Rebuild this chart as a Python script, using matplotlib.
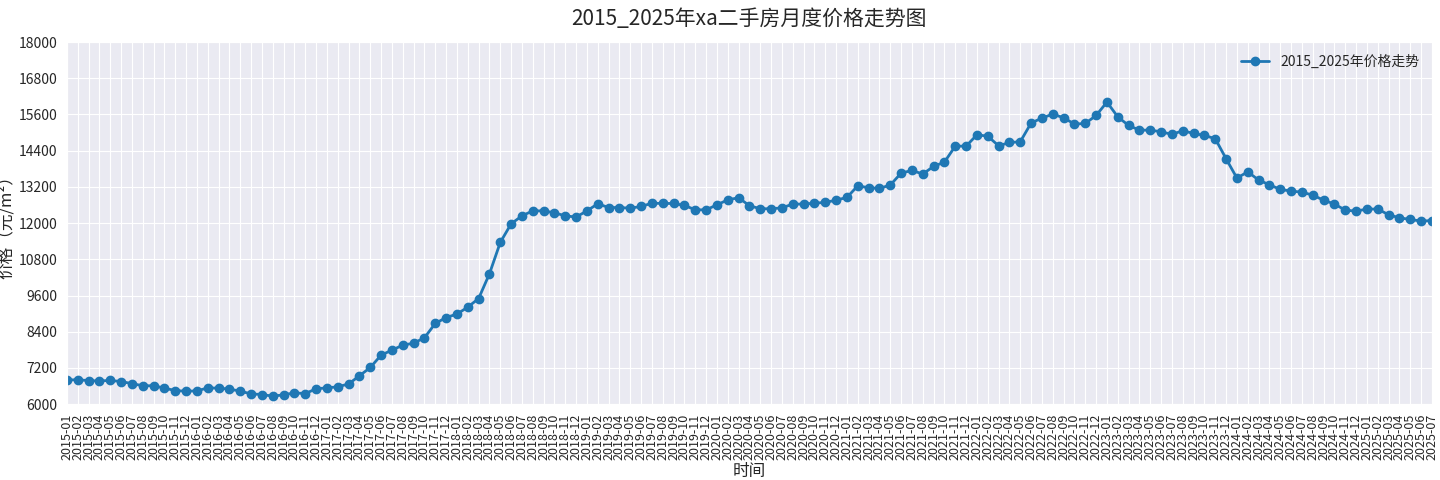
import matplotlib
matplotlib.use("Agg")
import matplotlib.pyplot as plt
import seaborn as sns
import pandas as pd

sns.set_style("darkgrid")
plt.rcParams['font.family'] = ['Noto Sans CJK SC', 'DejaVu Sans']
plt.rcParams['axes.unicode_minus'] = False

# 月份 2015-01 .. 2025-07
months = pd.date_range("2015-01", "2025-07", freq="MS").strftime("%Y-%m").tolist()

# 价格（元/m²）
prices = [
    6800, 6810, 6780, 6770, 6785, 6750, 6680, 6610, 6610, 6530, 6450, 6430,
    6440, 6540, 6530, 6500, 6430, 6340, 6320, 6265, 6310, 6375, 6350, 6510,
    6540, 6575, 6670, 6940, 7215, 7625, 7790, 7955, 8020, 8200, 8675, 8870,
    8985, 9215, 9500, 10320, 11360, 11975, 12240, 12405, 12405, 12340, 12240, 12200,
    12405, 12640, 12515, 12515, 12495, 12550, 12660, 12650, 12650, 12585, 12440, 12440,
    12605, 12770, 12840, 12575, 12475, 12475, 12505, 12630, 12630, 12660, 12685, 12760,
    12850, 13235, 13170, 13150, 13260, 13655, 13745, 13625, 13880, 14020, 14550, 14550,
    14925, 14880, 14560, 14670, 14695, 15315, 15480, 15610, 15490, 15280, 15300, 15565,
    16010, 15520, 15235, 15080, 15080, 15025, 14940, 15060, 14970, 14905, 14795, 14130,
    13490, 13700, 13425, 13270, 13115, 13060, 13025, 12925, 12760, 12630, 12430, 12395,
    12465, 12465, 12275, 12175, 12120, 12065, 12085,
]

fig, ax = plt.subplots(figsize=(14.4, 4.8), dpi=100)
fig.subplots_adjust(left=0.0465, right=0.9944, top=0.9125, bottom=0.158)

x = range(len(months))
ax.plot(x, prices, marker='o', markersize=6, linewidth=2, color='#1f77b4',
        label='2015_2025年价格走势')

ax.set_xticks(list(x))
ax.set_xticklabels(months, rotation=90, fontsize=9)
ax.set_xlim(0, len(months) - 1)
ax.set_ylim(6000, 18000)
ax.set_yticks(range(6000, 18001, 1200))
ax.tick_params(axis='y', labelsize=10)

ax.set_title('2015_2025年xa二手房月度价格走势图', fontsize=15, pad=12)
ax.set_xlabel('时间', fontsize=12, labelpad=2)
ax.set_ylabel('价格（元/m²）', fontsize=12)
ax.yaxis.set_label_coords(-0.038, 0.5)
ax.legend(loc='upper right', fontsize=10, frameon=False)

fig.savefig('out.png')
